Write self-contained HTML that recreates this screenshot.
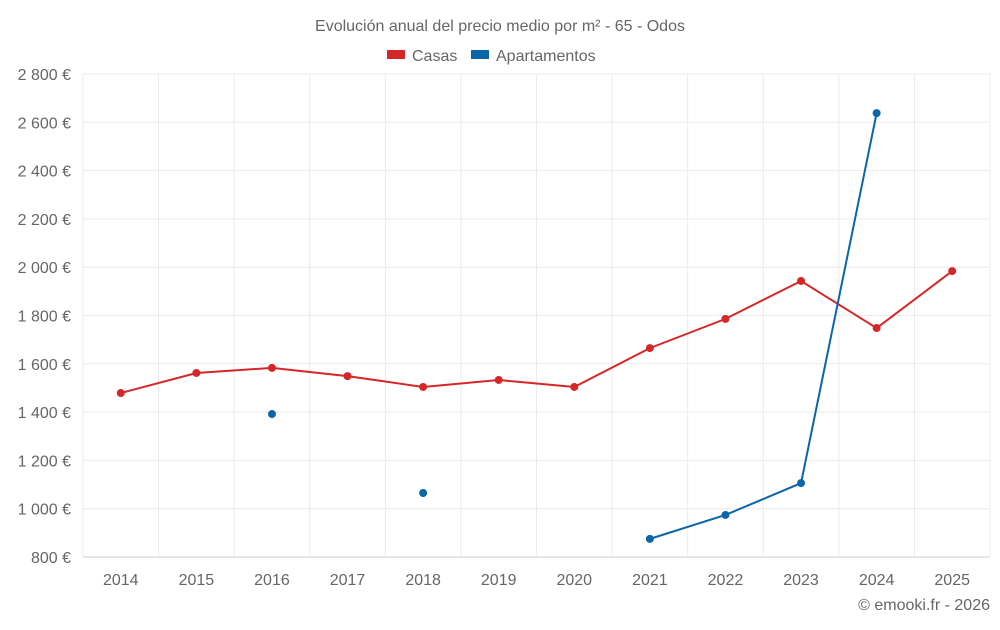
<!DOCTYPE html>
<html><head><meta charset="utf-8"><style>
body{margin:0;background:#fff;font-family:"Liberation Sans",sans-serif;}
svg text{font-family:"Liberation Sans",sans-serif;fill:#666;}
</style></head><body>
<svg id="chart" width="1000" height="625">
<text x="500" y="31" text-anchor="middle" font-size="16">Evolución anual del precio medio por m² - 65 - Odos</text>
<g>
<rect x="387" y="50" width="18" height="9" fill="#d62728"/>
<text x="412" y="61" font-size="16">Casas</text>
<rect x="471" y="50" width="18" height="9" fill="#0a66a8"/>
<text x="496" y="61" font-size="16">Apartamentos</text>
</g>
<g id="grid"></g><g id="axes"></g><g id="series"></g>
<text x="990" y="610" text-anchor="end" font-size="16">© emooki.fr - 2026</text>
</svg>
<script>
const years=[2014,2015,2016,2017,2018,2019,2020,2021,2022,2023,2024,2025];
const casas=[1479,1562,1583,1549,1504,1533,1504,1665,1786,1943,1748,1984];
const apartamentos=[null,null,1392,null,1065,null,null,875,974,1106,2638,null];
const yTicks=[800,1000,1200,1400,1600,1800,2000,2200,2400,2600,2800];
const L=83,R=990,T=74,B=557,yMin=800,yMax=2800;
const NS="http://www.w3.org/2000/svg";
const step=(R-L)/years.length;
const x=i=>L+step*(i+0.5);
const y=v=>B-(v-yMin)/(yMax-yMin)*(B-T);
function mk(tag,attrs,parent){const e=document.createElementNS(NS,tag);for(const k in attrs)e.setAttribute(k,attrs[k]);document.getElementById(parent).appendChild(e);return e;}
const fmt=v=>{const s=String(v);return s.length>3?s.slice(0,-3)+" "+s.slice(-3):s;};
yTicks.forEach(v=>{
 const g=mk("line",{x1:L,x2:R,y1:y(v),y2:y(v),stroke:v===yMin?"#ccc":"#ebebeb"},"grid");
 
 
 const t=mk("text",{x:L-12,y:y(v)+6,"text-anchor":"end","font-size":"16"},"axes");
 t.textContent=fmt(v)+" €";
 
 
});
for(let i=0;i<=years.length;i++){
 const g=mk("line",{x1:L+step*i,x2:L+step*i,y1:T,y2:B+(i===0?0:0),stroke:"#ebebeb"},"grid");
 
 
}
years.forEach((yr,i)=>{
 const t=mk("text",{x:x(i),y:585,"text-anchor":"middle","font-size":"16"},"axes");
 t.textContent=yr;
 
 
});
function series(vals,color,name){
 let seg=[];
 const segs=[];
 vals.forEach((v,i)=>{if(v==null){if(seg.length)segs.push(seg);seg=[];}else seg.push([x(i),y(v)]);});
 if(seg.length)segs.push(seg);
 segs.forEach(s=>{if(s.length>1){
  const p=mk("polyline",{points:s.map(p=>p.join(",")).join(" "),fill:"none",stroke:color,"stroke-width":2},"series");
  
  
 }});
 vals.forEach((v,i)=>{if(v==null)return;
  const c=mk("circle",{cx:x(i),cy:y(v),r:4,fill:color},"series");
  
  
 });
}
series(casas,"#d62728","casas");
series(apartamentos,"#0a66a8","apartamentos");
</script>
</body></html>
